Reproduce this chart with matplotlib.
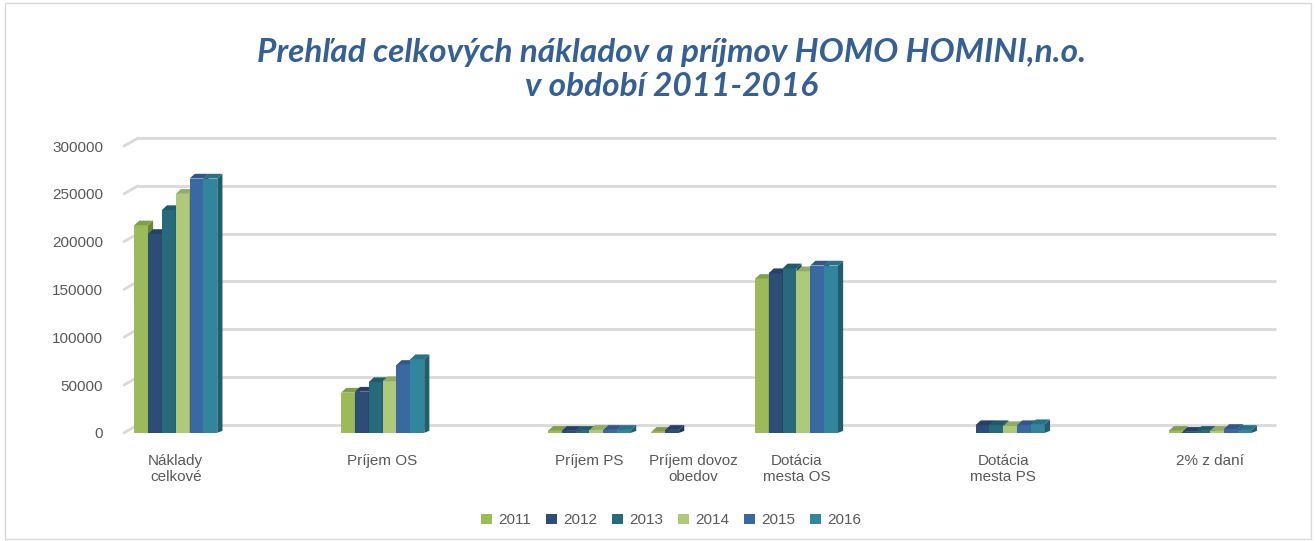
import matplotlib
matplotlib.use("Agg")
import matplotlib.pyplot as plt
from matplotlib.patches import Polygon, Rectangle
from matplotlib.transforms import ScaledTranslation
import numpy as np

categories = ["Náklady\ncelkové", "", "Príjem OS", "", "Príjem PS", "Príjem dovoz\nobedov",
              "Dotácia\nmesta OS", "", "Dotácia\nmesta PS", "", "2% z daní"]
years = ["2011", "2012", "2013", "2014", "2015", "2016"]
v2011 = [217000, 0, 42000, 0, 2000, 1000, 161000, 0, 0, 0, 2000]
v2012 = [208000, 0, 43000, 0, 2000, 3000, 167000, 0, 8000, 0, 1000]
v2013 = [233000, 0, 53000, 0, 2000, 0, 172000, 0, 8000, 0, 2000]
v2014 = [250000, 0, 54000, 0, 3000, 0, 169000, 0, 7000, 0, 2000]
v2015 = [266000, 0, 71000, 0, 3000, 0, 175000, 0, 8000, 0, 4000]
v2016 = [266000, 0, 77000, 0, 3000, 0, 175000, 0, 9000, 0, 3000]
series = [v2011, v2012, v2013, v2014, v2015, v2016]
colors = ["#9BBB59", "#2C4D75", "#276A7C", "#AFC97A", "#3A68A0", "#31859C"]
yticks = list(range(0, 300001, 50000))


def darker(c, f):
    r, g, b = matplotlib.colors.to_rgb(c)
    return (r * f, g * f, b * f)


fig = plt.figure(figsize=(13.16, 5.41), dpi=100)
fig.patches.append(Rectangle((0.004, 0.004), 0.992, 0.99, transform=fig.transFigure,
                             fill=False, edgecolor="#D9D9D9", lw=1))
ax = fig.add_axes([0.0942, 0.2, 0.8647, 0.53])
ax.patch.set_visible(False)
ax.set_xlim(-0.5, len(categories) - 0.5)
ax.set_ylim(0, 300000)

# back wall gridlines, shifted up/right for the 3D look, with slanted corner pieces
shift = ScaledTranslation(0.14, 0.08, fig.dpi_scale_trans)
back = ax.get_yaxis_transform() + shift
front = ax.get_yaxis_transform()
for t in yticks:
    ax.plot([0, 1], [t, t], color="#D9D9D9", lw=2, transform=back, zorder=0,
            clip_on=False, solid_capstyle="butt")
    ax.annotate("", xy=(0, t), xycoords=back, xytext=(0, t), textcoords=front,
                arrowprops=dict(arrowstyle="-", color="#D9D9D9", lw=2,
                                shrinkA=0, shrinkB=0), zorder=0)

x = np.arange(len(categories))
w = 0.134
dx, dy = 0.05, 5000
for i, (vals, c) in enumerate(zip(series, colors)):
    pos = x - 3 * w + w / 2 + i * w
    ax.bar(pos, vals, width=w, color=c, zorder=3 + i, label=years[i])
    for p, v in zip(pos, vals):
        if v <= 0:
            continue
        l, r = p - w / 2, p + w / 2
        side = Polygon([(r, 0), (r + dx, dy * 0.4), (r + dx, v + dy), (r, v)],
                       closed=True, color=darker(c, 0.7), zorder=3 + i, lw=0)
        top = Polygon([(l, v), (l + dx, v + dy), (r + dx, v + dy), (r, v)],
                      closed=True, color=darker(c, 0.85), zorder=3 + i, lw=0)
        ax.add_patch(side)
        ax.add_patch(top)

ax.set_xlim(-0.5, len(categories) - 0.5)
ax.set_ylim(0, 300000)
ax.set_yticks(yticks)
ax.set_yticklabels([str(t) for t in yticks])
ax.set_xticks(x)
ax.set_xticklabels(categories)
for s in ax.spines.values():
    s.set_visible(False)
ax.tick_params(axis="both", length=0, colors="#595959", labelsize=11)
ax.tick_params(axis="y", pad=15)
ax.tick_params(axis="x", pad=15)
for t in ax.get_xticklabels() + ax.get_yticklabels():
    t.set_fontfamily("Liberation Sans")

fig.text(0.51, 0.872, "Prehľad celkových nákladov a príjmov HOMO HOMINI,n.o.\nv období 2011-2016",
         ha="center", va="center", fontsize=24, fontweight="bold", fontstyle="italic",
         color="#376092", family="Lato", linespacing=1.2)

leg = fig.legend(loc="center", bbox_to_anchor=(0.51, 0.038), ncol=6, frameon=False,
                 handlelength=0.7, handleheight=0.7, handletextpad=0.4, columnspacing=1.0,
                 prop={"family": "Liberation Sans", "size": 11})
for t in leg.get_texts():
    t.set_color("#595959")

fig.savefig("out.png", dpi=100)
